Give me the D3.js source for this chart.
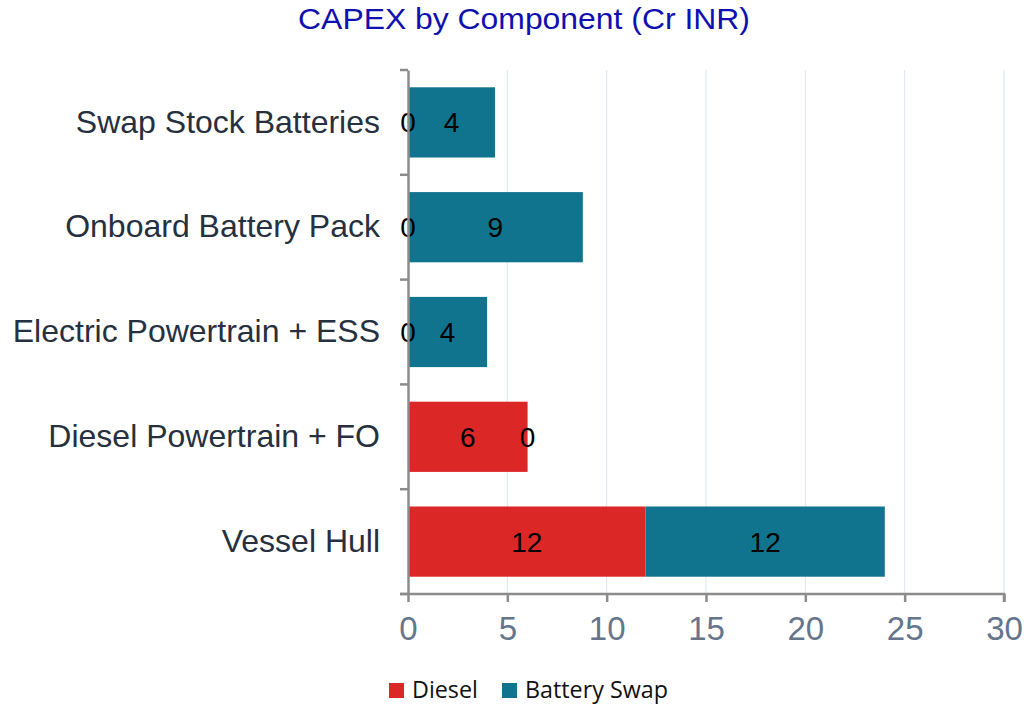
<!DOCTYPE html>
<html><head><meta charset="utf-8">
<script src="https://cdn.jsdelivr.net/npm/d3@7"></script>
<style>body{margin:0;background:#fff}svg{display:block}</style>
</head><body>
<svg id="c" width="1027" height="706"></svg>
<script>
const categories = ["Swap Stock Batteries","Onboard Battery Pack","Electric Powertrain + ESS","Diesel Powertrain + FO","Vessel Hull"];
const diesel = [0, 0, 0, 6.02, 11.96];
const batterySwap = [4.38, 8.8, 3.98, 0, 12.04];
const seriesNames = ["Diesel","Battery Swap"];
const xTicks = [0,5,10,15,20,25,30];
const colors = ["#dc2727","#10748f"];

const svg = d3.select("#c");
const m = {l:408, r:1004, t:70, b:594};
const x = d3.scaleLinear().domain([0,30]).range([m.l, m.r]);
const y = d3.scaleBand().domain(categories).range([m.t, m.b]).paddingInner(0.33).paddingOuter(0.165);
const FF = "Liberation Sans, Arial, sans-serif";

// grid
svg.append("g").selectAll("line").data(xTicks.slice(1)).join("line")
  .attr("x1", d=>x(d)).attr("x2", d=>x(d)).attr("y1", m.t).attr("y2", m.b)
  .attr("stroke", "#dfe5ef").attr("stroke-width", 1);

// title
svg.append("text").attr("transform","translate(524,29) scale(1.1,1)").attr("text-anchor","middle")
  .attr("font-family",FF).attr("font-size", 29)
  .attr("fill","#1010b0").text("CAPEX by Component (Cr INR)");

const data = categories.map((c,i)=>({c, d: diesel[i], b: batterySwap[i]}));
const g = svg.append("g");
g.selectAll("rect.d").data(data).join("rect").attr("class","d")
  .attr("x", x(0)).attr("y", d=>y(d.c)).attr("height", y.bandwidth())
  .attr("width", d=>x(d.d)-x(0)).attr("fill", colors[0]);
g.selectAll("rect.b").data(data).join("rect").attr("class","b")
  .attr("x", d=>x(d.d)).attr("y", d=>y(d.c)).attr("height", y.bandwidth())
  .attr("width", d=>x(d.d+d.b)-x(d.d)).attr("fill", colors[1]);

// labels
const lab = (sel, fx, fv) => sel.attr("x", fx).attr("y", d=>y(d.c)+y.bandwidth()/2)
  .attr("dy","0.36em").attr("text-anchor","middle")
  .attr("font-family",FF).attr("font-size", 28)
  .attr("fill","#000").text(fv);
lab(g.selectAll("text.dl").data(data).join("text").attr("class","dl"), d=>x(d.d/2), d=>Math.round(d.d));
lab(g.selectAll("text.bl").data(data).join("text").attr("class","bl"), d=>x(d.d + d.b/2), d=>Math.round(d.b));

// y axis
const yAxis = d3.axisLeft(y).tickSize(0).tickPadding(28);
const ya = svg.append("g").attr("transform", `translate(${m.l},0)`).call(yAxis);
ya.select(".domain").attr("stroke","#8c8c8c").attr("stroke-width",2.5);
ya.selectAll("text").attr("font-family",FF).attr("font-size",32).attr("fill","#26303e");
const bounds = categories.map(c=>y(c)-y.step()*y.paddingInner()/2);
bounds[0] = m.t; bounds.push(m.b);
svg.append("g").selectAll("line").data(bounds).join("line")
  .attr("x1", m.l-8).attr("x2", m.l).attr("y1", d=>d).attr("y2", d=>d)
  .attr("stroke","#8c8c8c").attr("stroke-width",2.5);

// x axis
const xAxis = d3.axisBottom(x).tickValues(xTicks).tickSize(8).tickPadding(15);
const xa = svg.append("g").attr("transform", `translate(0,${m.b})`).call(xAxis);
xa.select(".domain").attr("stroke","#8c8c8c").attr("stroke-width",2.5).attr("d", `M${m.l-8},0H${m.r}V8`);
xa.selectAll(".tick line").attr("stroke","#8c8c8c").attr("stroke-width",2.5);
xa.selectAll("text").attr("font-family",FF).attr("font-size",33).attr("fill","#64758c");

// legend
const lg = svg.append("g");
const lx = [389, 502];
seriesNames.forEach((n,i)=>{
  lg.append("rect").attr("x", lx[i]).attr("y", 683).attr("width",15).attr("height",15).attr("fill", colors[i]);
  lg.append("text").attr("x", lx[i]+23).attr("y", 698).attr("font-family","Open Sans, sans-serif")
    .attr("font-size",23.3).attr("fill","#111").text(n);
});
</script>
</body></html>
